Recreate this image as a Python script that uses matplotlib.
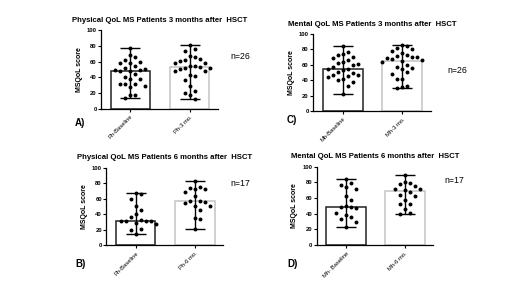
import numpy as np
import matplotlib
matplotlib.use('Agg')
import matplotlib.pyplot as plt

plt.rcParams['font.family'] = ['Liberation Sans', 'DejaVu Sans']

# values (bar = median, whiskers = range)
phys3_base = [78, 68, 66, 62, 59, 58, 58, 55, 52, 50, 49, 49, 48, 48, 44, 41, 38, 38, 32, 31, 31, 29, 28, 18, 18, 14]
phys3_post = [81, 76, 73, 67, 66, 64, 62, 61, 58, 58, 54, 54, 53, 52, 52, 50, 48, 48, 43, 42, 36, 29, 22, 20, 18, 12]
ment3_base = [84, 76, 74, 72, 70, 69, 66, 63, 62, 61, 59, 57, 55, 54, 53, 51, 49, 47, 46, 45, 44, 41, 40, 37, 33, 22]
ment3_post = [85, 84, 82, 80, 78, 75, 72, 71, 70, 70, 69, 67, 66, 65, 63, 60, 57, 56, 55, 50, 48, 41, 41, 33, 31, 30]
phys6_base = [67, 66, 59, 50, 45, 40, 36, 32, 31, 31, 31, 31, 29, 28, 21, 20, 14]
phys6_post = [83, 75, 74, 73, 72, 68, 63, 57, 57, 56, 55, 51, 50, 45, 35, 34, 21]
ment6_base = [84, 79, 77, 74, 71, 63, 58, 50, 49, 48, 47, 41, 38, 36, 33, 30, 23]
ment6_post = [90, 80, 79, 78, 76, 72, 71, 70, 68, 64, 62, 57, 52, 52, 46, 41, 40]

bar_heights = {'A': [48, 53], 'B': [31, 57], 'C': [54, 65], 'D': [48, 69]}

panels = [
    # key, title, tick labels, data, n label, axes rect, n pos, letter pos
    ('A', 'Physical QoL MS Patients 3 months after  HSCT', ['Ph-Baseline', 'Ph-3 mo.'],
     [phys3_base, phys3_post], 'n=26', [0.194, 0.628, 0.225, 0.268], (1.11, 0.66), (-0.22, -0.18)),
    ('C', 'Mental QoL MS Patients 3 months after  HSCT', ['Mh-Baseline', 'Mh-3 mo.'],
     [ment3_base, ment3_post], 'n=26', [0.602, 0.620, 0.227, 0.264], (1.14, 0.53), (-0.22, -0.12)),
    ('B', 'Physical QoL MS Patients 6 months after  HSCT', ['Ph-Baseline', 'Ph-6 mo.'],
     [phys6_base, phys6_post], 'n=17', [0.204, 0.160, 0.225, 0.266], (1.06, 0.80), (-0.265, -0.24)),
    ('D', 'Mental QoL MS Patients 6 months after  HSCT', ['Mh- Baseline', 'Mh-6 mo.'],
     [ment6_base, ment6_post], 'n=17', [0.609, 0.161, 0.224, 0.268], (1.095, 0.83), (-0.255, -0.24)),
]

edge_cols = ['#222222', '#c4c4c4']


def swarm_offsets(vals, px_x, px_y, gap_x=5.0, gap_y=7.5):
    # GraphPad-like layout: points that are close vertically get
    # pushed sideways in steps of about one marker width
    order = np.argsort(vals)[::-1]
    placed = []
    offs = np.zeros(len(vals))
    for i in order:
        y = vals[i] * px_y
        for k in range(40):
            step = (k + 1) // 2 * (1 if k % 2 else -1)
            xo = step * gap_x
            clash = any(abs(y - py) < gap_y and abs(xo - px) < gap_x for px, py in placed)
            if not clash:
                break
        placed.append((xo, y))
        offs[i] = xo / px_x
    return offs


fig = plt.figure(figsize=(5.2, 2.92), dpi=100)

for key, title, labels, data, nlab, rect, npos, lpos in panels:
    ax = fig.add_axes(rect)
    x = np.arange(2)
    ax.bar(x, bar_heights[key], width=0.67, color='white', edgecolor=edge_cols,
           linewidth=1.1, zorder=1)
    lo = [bar_heights[key][i] - min(d) for i, d in enumerate(data)]
    hi = [max(d) - bar_heights[key][i] for i, d in enumerate(data)]
    ax.errorbar(x, bar_heights[key], yerr=[lo, hi], fmt='none', ecolor='black',
                elinewidth=1.0, capsize=7, capthick=1.0, zorder=2)
    px_x = rect[2] * 520 / 1.98
    px_y = rect[3] * 292 / 100
    for i, d in enumerate(data):
        d = np.array(d, dtype=float)
        ax.scatter(i + swarm_offsets(d, px_x, px_y), d, s=8, color='black',
                   linewidths=0, zorder=3)
    ax.set_xlim(-0.5, 1.48)
    ax.set_ylim(0, 100)
    ax.set_yticks([0, 20, 40, 60, 80, 100])
    ax.set_xticks(x)
    ax.set_xticklabels(labels, rotation=45, ha='right', rotation_mode='anchor',
                       fontsize=4.2)
    ax.tick_params(axis='y', labelsize=4.2, length=2, width=0.8, pad=1)
    ax.tick_params(axis='x', length=2, width=0.8, pad=2)
    for t in ax.get_yticklabels():
        t.set_fontweight('bold')
    ax.set_ylabel('MSQoL score', fontsize=5, fontweight='bold', labelpad=3)
    for s in ['top', 'right']:
        ax.spines[s].set_visible(False)
    for s in ['left', 'bottom']:
        ax.spines[s].set_linewidth(0.9)
    ax.set_title(title, fontsize=5.6, fontweight='bold', pad=6)
    ax.text(npos[0], npos[1], nlab, transform=ax.transAxes, fontsize=6.3, va='center')
    ax.text(lpos[0], lpos[1], key + ')', transform=ax.transAxes, fontsize=7,
            fontweight='bold', va='center')

fig.savefig('out.png', dpi=100)
